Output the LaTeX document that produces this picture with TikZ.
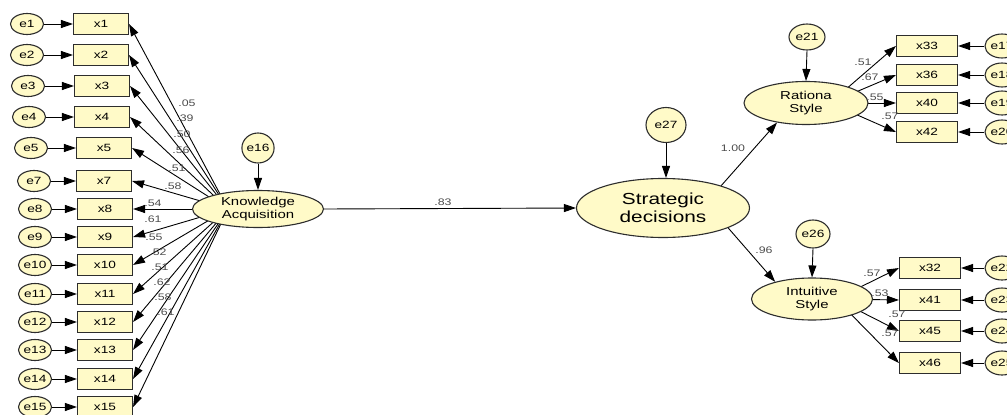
\documentclass[tikz,border=0pt]{standalone}
\usepackage{fontspec}
\setmainfont[FakeStretch=1.3]{Liberation Sans}
\usetikzlibrary{shapes.geometric,arrows.meta}
\pgfdeclarelayer{bg}
\pgfsetlayers{bg,main}
\definecolor{latfill}{RGB}{255,250,200}
\definecolor{edge}{RGB}{45,45,45}
\tikzset{
  lat/.style={ellipse, draw=edge, line width=1.1pt, fill=latfill, inner sep=0pt, align=center, font=\fontsize{11.5}{12.5}\selectfont},
  err/.style={ellipse, draw=edge, line width=1.1pt, fill=latfill, inner sep=0pt, minimum width=33pt, minimum height=21pt, font=\fontsize{10.5}{11}\selectfont},
  obs/.style={rectangle, draw=edge, line width=1.1pt, fill=latfill, inner sep=0pt, minimum width=55pt, minimum height=21pt, font=\fontsize{10.5}{11}\selectfont},
  conn/.style={-{Triangle[length=12pt,width=8pt]}, line width=0.9pt, black},
  coef/.style={font=\fontsize{9.5}{10}\selectfont, text=black!70, inner sep=0pt},
}
\begin{document}
\begin{tikzpicture}[x=1pt,y=-1pt]
\useasboundingbox (0,0) rectangle (1007,415);
\clip (0,0) rectangle (1007,415);
% left indicators
\foreach \e/\x/\ex/\xx/\y in {e1/x1/27/101/24, e2/x2/27/101/55, e3/x3/28/102/86, e4/x4/29/102/117, e5/x5/31/104/148, e7/x7/34/104/181, e8/x8/35/105/209, e9/x9/35/105/237, e10/x10/35/105/265, e11/x11/35/105/294, e12/x12/35/105/322, e13/x13/35/105/350, e14/x14/35/105/379, e15/x15/35/105/407}{
  \node[err] (\e) at (\ex,\y) {\e};
  \node[obs] (\x) at (\xx,\y) {\x};
}
% latent variables
\node[lat, minimum width=131pt, minimum height=37pt] (ka) at (258,209) {Knowledge\\Acquisition};
\node[err, minimum width=32pt, minimum height=30pt] (e16) at (258,148) {e16};
\node[lat, minimum width=173pt, minimum height=59pt, font=\fontsize{16}{17.5}\selectfont] (sd) at (663,208) {Strategic\\decisions};
\node[err, minimum width=40pt, minimum height=35pt] (e27) at (666,125) {e27};
\node[lat, minimum width=124pt, minimum height=43pt] (rs) at (806,103) {Rationa\\Style};
\node[err, minimum width=36pt, minimum height=26pt] (e21) at (807,37) {e21};
\node[lat, minimum width=121pt, minimum height=42pt] (is) at (812,299) {Intuitive\\Style};
\node[err, minimum width=34pt, minimum height=28pt] (e26) at (813,234) {e26};
% right indicators
\foreach \e/\x/\y in {e17/x33/46, e18/x36/75, e19/x40/103, e20/x42/132}{
  \node[obs, minimum width=61pt] (\x) at (927,\y) {\x};
  \node[err, minimum width=34pt, minimum height=24pt] (\e) at (1002,\y) {\e};
}
\foreach \e/\x/\y in {e22/x32/268, e23/x41/300, e24/x45/331, e25/x46/363}{
  \node[obs, minimum width=61pt] (\x) at (930,\y) {\x};
  \node[err, minimum width=34pt, minimum height=24pt] (\e) at (1002,\y) {\e};
}
\coordinate (kal) at (228,209);
\coordinate (rsr) at (830,103);
\coordinate (isr) at (836,299);
\begin{pgfonlayer}{bg}
\foreach \e/\x in {e1/x1,e2/x2,e3/x3,e4/x4,e5/x5,e7/x7,e8/x8,e9/x9,e10/x10,e11/x11,e12/x12,e13/x13,e14/x14,e15/x15}
  \draw[conn] (\e) -- (\x);
\foreach \x in {x1,x2,x3,x4,x5,x7,x8,x9,x10,x11,x12,x13,x14,x15}
  \draw[conn] (kal) -- (\x.east);
\foreach \x in {x33,x36,x40,x42}
  \draw[conn] (rsr) -- (\x.west);
\foreach \x in {x32,x41,x45,x46}
  \draw[conn] (isr) -- (\x.west);
\foreach \e/\x in {e17/x33,e18/x36,e19/x40,e20/x42,e22/x32,e23/x41,e24/x45,e25/x46}
  \draw[conn] (\e) -- (\x);
\end{pgfonlayer}
\draw[conn] (e16.south) -- (ka.north);
\draw[conn] (e27.south) -- (e27.south |- sd.north);
\draw[conn] (e21.south) -- (rs.north);
\draw[conn] (e26.south) -- (is.north);
\draw[conn] (ka.east) -- (sd.west);
\draw[conn] (sd.21) -- (rs.214);
\draw[conn] (sd.-17) -- (is.155);
% coefficients
\foreach \n/\t/\px/\py in {c1/.05/187/103, c2/.39/185/118, c3/.50/182/134, c4/.56/181/150, c5/.51/177/168, c7/.58/173/186, c8/.54/153/203, c9/.61/153/219, c10/.55/154/237, c11/.52/158/252, c12/.51/160/267, c13/.62/162/282, c14/.58/163/297, c15/.61/166/312,
  c16/.83/443/202, c17/1.00/733/148, c18/.96/764/250,
  c19/.51/863/62, c20/.67/870/77, c21/.55/875/97, c22/.57/890/116,
  c23/.57/872/273, c24/.53/880/293, c25/.57/897/314, c26/.57/890/333}
  \node[coef] (\n) at (\px,\py) {\t};
\end{tikzpicture}
\end{document}
